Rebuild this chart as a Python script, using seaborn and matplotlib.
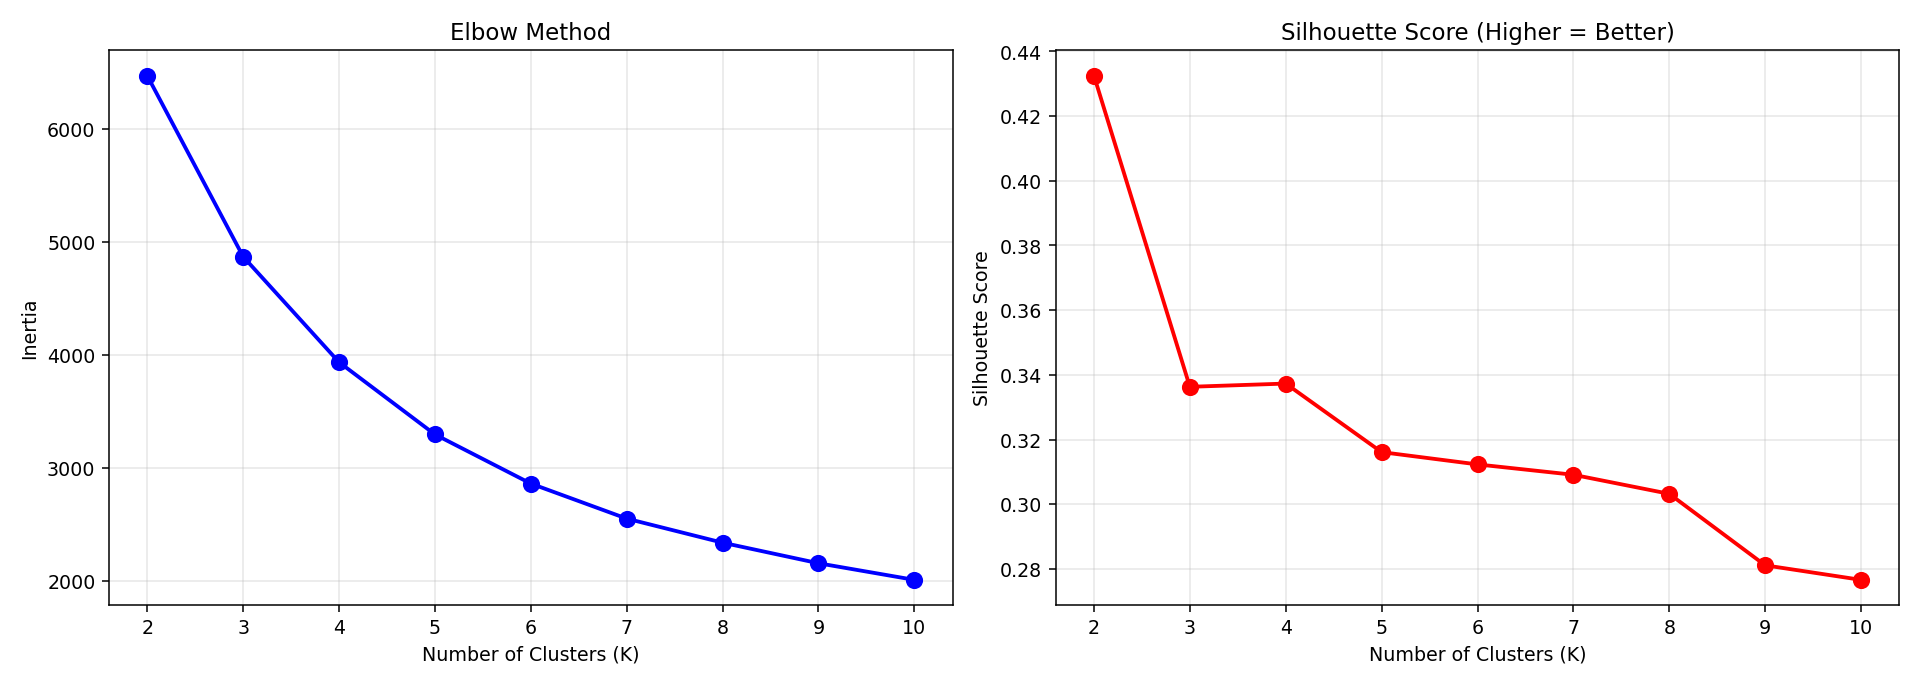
import numpy as np
import pandas as pd
import matplotlib
matplotlib.use("Agg")
import matplotlib.pyplot as plt
import seaborn as sns

# values
k_values = [2, 3, 4, 5, 6, 7, 8, 9, 10]
inertia = [6469, 4868, 3934, 3295, 2860, 2550, 2337, 2155, 2008]
silhouette = [0.4325, 0.3363, 0.3373, 0.3161, 0.3123, 0.3091, 0.3032, 0.2811, 0.2766]

df = pd.DataFrame({"k": k_values, "inertia": inertia, "silhouette": silhouette})

fig, axes = plt.subplots(1, 2, figsize=(14, 5))

# elbow
sns.lineplot(data=df, x="k", y="inertia", ax=axes[0], color="blue",
             marker="o", markersize=8, linewidth=2,
             markeredgecolor="blue", markeredgewidth=1)
axes[0].set_xlabel("Number of Clusters (K)")
axes[0].set_ylabel("Inertia")
axes[0].set_title("Elbow Method")
axes[0].set_xticks(k_values)
axes[0].grid(True, alpha=0.3)

# silhouette
sns.lineplot(data=df, x="k", y="silhouette", ax=axes[1], color="red",
             marker="o", markersize=8, linewidth=2,
             markeredgecolor="red", markeredgewidth=1)
axes[1].set_xlabel("Number of Clusters (K)")
axes[1].set_ylabel("Silhouette Score")
axes[1].set_title("Silhouette Score (Higher = Better)")
axes[1].set_xticks(k_values)
axes[1].grid(True, alpha=0.3)

plt.tight_layout()
plt.savefig("out.png", dpi=1920 / 14)
